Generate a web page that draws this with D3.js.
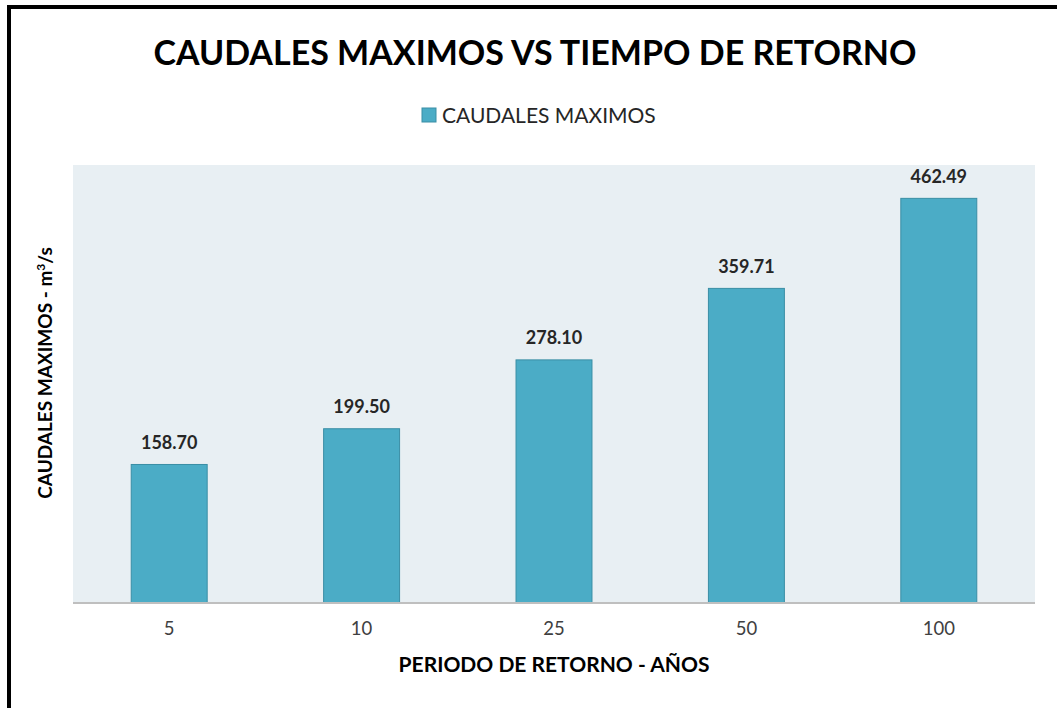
<!DOCTYPE html>
<html lang="en">
<head>
    <meta charset="UTF-8">
    <title>Caudales maximos</title>
    <script src="https://d3js.org/d3.v7.min.js"></script>
    <style>
        body { margin: 0; background: #fff; font-family: Lato, "Open Sans", sans-serif; }
        svg { display: block; }
    </style>
</head>
<body>
    <div id="chart"></div>
    <script>
        // data
        const periodos = ["5", "10", "25", "50", "100"];
        const caudales = [158.70, 199.50, 278.10, 359.71, 462.49];
        const yDomain = [0, 500];

        const W = 1057, H = 708;
        const plot = {left: 73, right: 1035, top: 165, bottom: 603};

        const svg = d3.select("#chart").append("svg")
            .attr("width", W).attr("height", H);

        // chart frame (only top and left edges are visible)
        svg.append("path")
            .attr("d", `M9,${H} L9,7 L${W},7`)
            .attr("fill", "none")
            .attr("stroke", "#000")
            .attr("stroke-width", 4);

        svg.append("rect")
            .attr("x", plot.left).attr("y", plot.top)
            .attr("width", plot.right - plot.left)
            .attr("height", plot.bottom - plot.top)
            .attr("fill", "#e8eff3");

        const x = d3.scaleBand()
            .domain(periodos)
            .range([plot.left, plot.right])
            .paddingInner(0.6)
            .paddingOuter(0.3);

        const y = d3.scaleLinear()
            .domain(yDomain)
            .range([plot.bottom, plot.top]);

        const data = periodos.map((p, i) => ({periodo: p, valor: caudales[i]}));

        svg.append("g")
            .selectAll("rect")
            .data(data)
            .enter().append("rect")
            .attr("x", d => x(d.periodo) + 0.5)
            .attr("y", d => y(d.valor) + 0.5)
            .attr("width", x.bandwidth() - 1)
            .attr("height", d => y(0) - y(d.valor) - 0.5)
            .attr("fill", "#4bacc6")
            .attr("stroke", "#3a8ea5")
            .attr("stroke-width", 1);

        svg.append("g")
            .selectAll("text")
            .data(data)
            .enter().append("text")
            .attr("x", d => x(d.periodo) + x.bandwidth() / 2)
            .attr("y", d => y(d.valor) - 15)
            .attr("text-anchor", "middle")
            .attr("font-size", "18px")
            .attr("font-weight", "bold")
            .attr("fill", "#262626")
            .text(d => d.valor.toFixed(2));

        // x axis
        const xAxis = svg.append("g")
            .attr("transform", `translate(0,${plot.bottom})`)
            .call(d3.axisBottom(x).tickSize(0).tickPadding(19));
        xAxis.select(".domain")
            .attr("d", `M${plot.left},0H${plot.right}`)
            .attr("stroke", "#bfbfbf")
            .attr("stroke-width", 2);
        xAxis.selectAll("text")
            .attr("font-family", "Lato, sans-serif")
            .attr("font-size", "18.5px")
            .attr("fill", "#404040");

        // titles
        svg.append("text")
            .attr("x", 535).attr("y", 65)
            .attr("text-anchor", "middle")
            .attr("font-size", "34px")
            .attr("font-weight", "bold")
            .attr("fill", "#000")
            .text("CAUDALES MAXIMOS VS TIEMPO DE RETORNO");

        svg.append("text")
            .attr("x", 554).attr("y", 672)
            .attr("text-anchor", "middle")
            .attr("font-size", "21px")
            .attr("font-weight", "bold")
            .attr("fill", "#000")
            .text("PERIODO DE RETORNO - AÑOS");

        const yTitle = svg.append("text")
            .attr("transform", "translate(52,373) rotate(-90)")
            .attr("text-anchor", "middle")
            .attr("font-size", "19px")
            .attr("font-weight", "bold")
            .attr("fill", "#000");
        yTitle.append("tspan").text("CAUDALES MAXIMOS - m");
        yTitle.append("tspan").attr("font-size", "12px").attr("dy", "-7").text("3");
        yTitle.append("tspan").attr("dy", "7").text("/s");

        // legend
        const legend = svg.append("g").attr("transform", "translate(422,108)");
        legend.append("rect")
            .attr("width", 14).attr("height", 14)
            .attr("fill", "#4bacc6")
            .attr("stroke", "#3a8ea5");
        legend.append("text")
            .attr("x", 20).attr("y", 15)
            .attr("font-size", "21px")
            .attr("fill", "#262626")
            .text("CAUDALES MAXIMOS");
    </script>
</body>
</html>
